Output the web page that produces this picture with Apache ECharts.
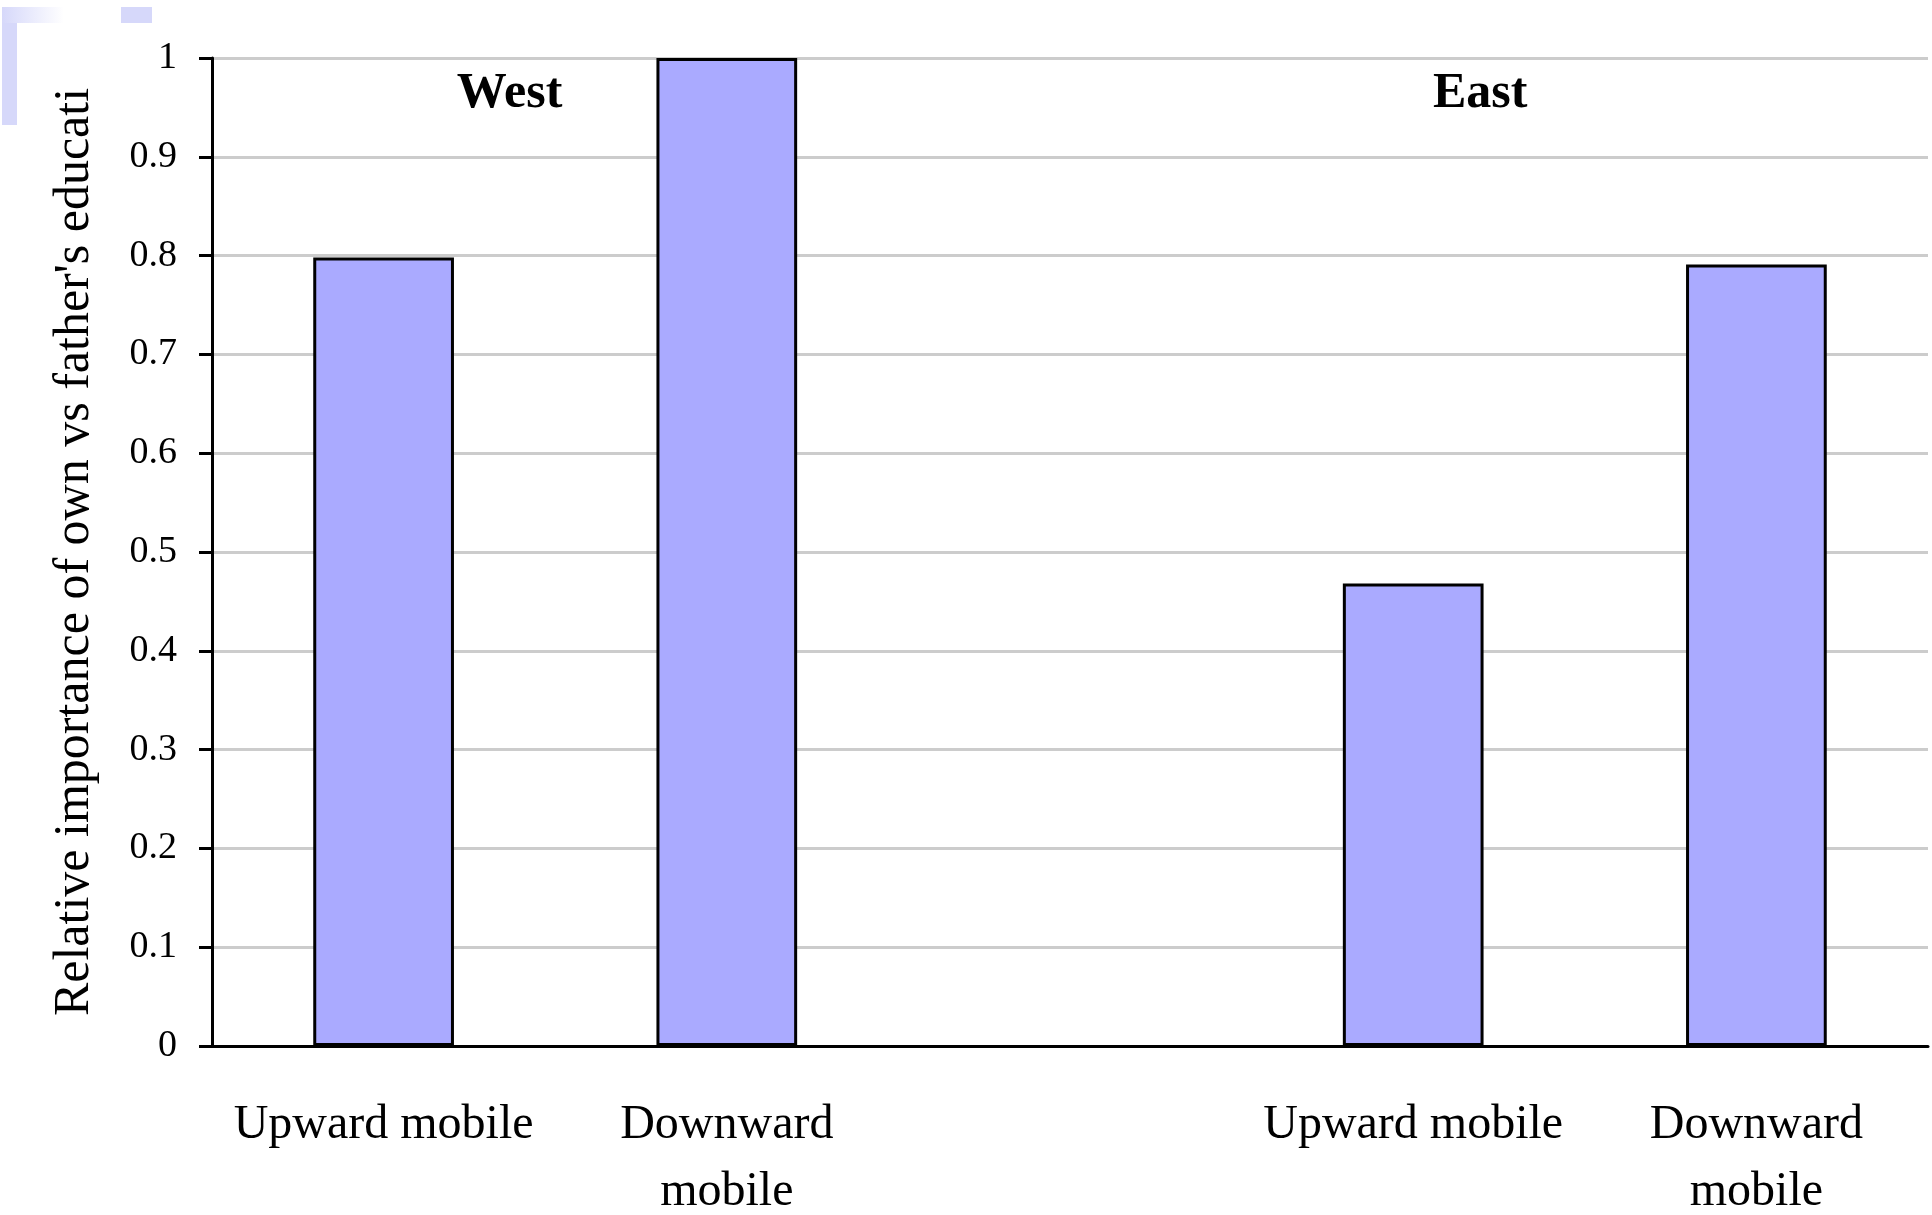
<!DOCTYPE html>
<html><head><meta charset="utf-8">
<style>html,body{margin:0;padding:0;background:#fff;overflow:hidden;}#c{width:1932px;height:1215px;}</style>
<script src="https://cdn.jsdelivr.net/npm/echarts@6/dist/echarts.min.js"></script>
</head><body><div id="c"></div>
<script>
const categories = ['Upward mobile', 'Downward\nmobile', '', 'Upward mobile', 'Downward\nmobile'];
const values = [0.798, 1.0, null, 0.468, 0.791];
const yTicks = [0, 0.1, 0.2, 0.3, 0.4, 0.5, 0.6, 0.7, 0.8, 0.9, 1];
const groupLabels = ['West', 'East'];
const groupPos = [0.367, 3.195];   // position along the category axis (index units)
const groupY = 0.963;
const yName = "Relative importance of own vs father's educati";

const chart = echarts.init(document.getElementById('c'));
const F = '"Liberation Serif", "Times New Roman", serif';
const deco = [
  { type: 'rect', shape: { x: 2, y: 7, width: 62, height: 16 }, style: { fill: new echarts.graphic.LinearGradient(0, 0, 1, 0, [{ offset: 0, color: '#d6d8fa' }, { offset: 1, color: '#ffffff' }]) } },
  { type: 'rect', shape: { x: 121, y: 7, width: 31, height: 16 }, style: { fill: '#d6d8fa' } },
  { type: 'rect', shape: { x: 2, y: 23, width: 15, height: 102 }, style: { fill: '#d6d8fa' } }
];
chart.setOption({
  animation: false,
  grid: { left: 212, right: 4, top: 58, bottom: 169, outerBoundsMode: 'none', containLabel: false },
  xAxis: {
    type: 'category', data: categories,
    axisLine: { lineStyle: { color: '#000', width: 3 } },
    axisTick: { show: false },
    axisLabel: { fontFamily: F, fontSize: 48, color: '#000', lineHeight: 67, margin: 46, interval: 0 }
  },
  yAxis: {
    type: 'value', min: 0, max: 1, interval: 0.1,
    name: yName, nameLocation: 'middle', nameGap: 112, nameRotate: 90,
    nameTextStyle: { fontFamily: F, fontSize: 50, color: '#000' },
    axisLine: { show: true, lineStyle: { color: '#000', width: 3 } },
    axisTick: { show: true, length: 13, lineStyle: { color: '#000', width: 3 } },
    axisLabel: { fontFamily: F, fontSize: 38, color: '#000', margin: 35,
      formatter: v => { const t = yTicks.find(x => Math.abs(x - v) < 1e-9); return t === undefined ? '' : String(t); } },
    splitLine: { lineStyle: { color: '#cccccc', width: 3 } }
  },
  series: [{
    type: 'bar', data: values, barWidth: '41%',
    itemStyle: { color: '#aaaaff', borderColor: '#000', borderWidth: 3 }
  }],
  graphic: deco
});

function catPixel(pos, v) {
  const i = Math.floor(pos), f = pos - i;
  const a = chart.convertToPixel({ gridIndex: 0 }, [i, v]);
  const b = chart.convertToPixel({ gridIndex: 0 }, [i + 1, v]);
  return [a[0] + (b[0] - a[0]) * f, a[1]];
}
const labels = groupLabels.map((t, k) => {
  const p = catPixel(groupPos[k], groupY);
  return { type: 'text', x: p[0], y: p[1], style: { text: t, font: 'bold 50px ' + F, fill: '#000', textAlign: 'center', textVerticalAlign: 'middle' } };
});
chart.setOption({ graphic: deco.concat(labels) });
</script></body></html>
